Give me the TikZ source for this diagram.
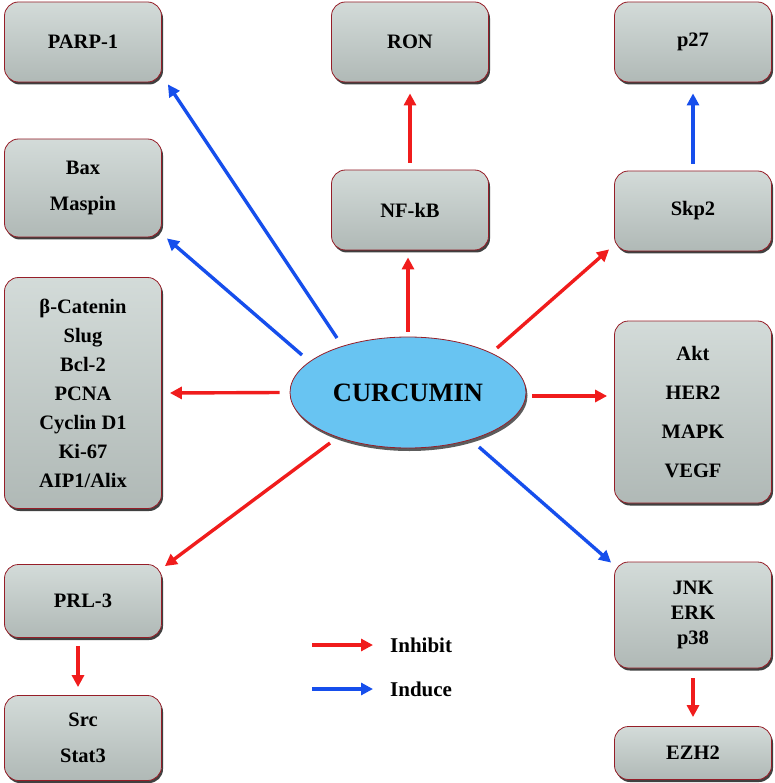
\documentclass[tikz,border=0pt]{standalone}
\usepackage{fontspec}
\setmainfont{Liberation Serif}
\usepackage{tikz}
\usepackage{xcolor}
\usetikzlibrary{positioning, arrows.meta, shapes.geometric, shadows, calc}
\definecolor{boxgray}{RGB}{200, 210, 207}
\definecolor{boxedge}{RGB}{150, 30, 40}
\definecolor{curblue}{RGB}{104, 196, 242}
\definecolor{inhred}{RGB}{240, 28, 28}
\definecolor{indblue}{RGB}{22, 78, 236}
\tikzset{
    genebox/.style={rectangle, rounded corners=14pt, draw=boxedge, line width=0.8pt,
        top color=boxgray!80!white, bottom color=boxgray!88!black,
        drop shadow={shadow xshift=1.5pt, shadow yshift=-2.5pt, opacity=0.75, fill=black},
        minimum width=157pt, align=center, inner sep=0pt, font=\fontsize{20.5}{29}\selectfont\bfseries},
    curnode/.style={ellipse, draw=boxedge, line width=0.8pt, fill=curblue,
        drop shadow={shadow xshift=1.5pt, shadow yshift=-3pt, opacity=0.8, fill=black!80},
        minimum width=236pt, minimum height=111pt, inner sep=0pt, font=\fontsize{26.5}{30}\selectfont\bfseries},
    inhibit/.style={draw=inhred, line width=3.4pt, -{Triangle[length=12pt, width=12pt]}},
    induce/.style={draw=indblue, line width=3.4pt, -{Triangle[length=12pt, width=12pt]}},
    legtext/.style={anchor=west, inner sep=0pt, font=\fontsize{21}{24}\selectfont\bfseries}
}
\begin{document}
\begin{tikzpicture}[x=1pt, y=-1pt]
                \useasboundingbox (0,0) rectangle (774,783);
                \node[curnode] (cur) at (408,392.5) {CURCUMIN};
                \node[genebox, minimum height=80pt] (parp) at (83,42) {PARP-1};
                \node[genebox, minimum height=80pt] (ron) at (410,42) {RON};
                \node[genebox, minimum height=80pt] (p27) at (693,42) {p27};
                \node[genebox, minimum height=98pt, font=\fontsize{20.5}{36}\selectfont\bfseries] (bax) at (83,188) {Bax\\Maspin};
                \node[genebox, minimum height=80pt] (nfkb) at (410,210) {NF-kB};
                \node[genebox, minimum height=80pt] (skp) at (693,211) {Skp2};
                \node[genebox, minimum height=231pt] (cat) at (83,393)
                    {β-Catenin\\Slug\\Bcl-2\\PCNA\\Cyclin D1\\Ki-67\\AIP1/Alix};
                \node[genebox, minimum height=182pt, font=\fontsize{20.5}{39}\selectfont\bfseries] (akt) at (693,412)
                    {Akt\\HER2\\MAPK\\VEGF};
                \node[genebox, minimum height=73pt] (prl) at (83,601) {PRL-3};
                \node[genebox, minimum height=85pt, font=\fontsize{20.5}{36}\selectfont\bfseries] (src) at (83,738) {Src\\Stat3};
                \node[genebox, minimum height=106pt, font=\fontsize{20.5}{25}\selectfont\bfseries] (jnk) at (693,615) {JNK\\ERK\\p38};
                \node[genebox, minimum height=53pt] (ezh) at (693,753) {EZH2};

                \draw[induce] ($(cur)+(-71,-54.5)$) -- ($(parp.south east)+(6,2)$);
                \draw[induce] ($(cur)+(-106,-37.5)$) -- ($(bax.south east)+(5,1)$);
                \draw[inhibit] ($(cur.west)+(-10,0)$) -- ($(cat.east)+(8,0)$);
                \draw[inhibit] ($(cur.north)+(0,-5)$) -- ($(cur.north |- nfkb.south)+(0,7)$);
                \draw[inhibit] ($(nfkb.north)+(0,-7)$) -- ($(ron.south)+(0,11)$);
                \draw[induce] ($(skp.north)+(0,-7)$) -- ($(p27.south)+(0,11)$);
                \draw[inhibit] ($(cur)+(89,-44.5)$) -- ($(skp.south west)+(-5,-2)$);
                \draw[inhibit] ($(cur.east)+(6,3.5)$) -- ($(cur.east -| akt.west)+(-7,3.5)$);
                \draw[induce] ($(cur)+(71,54.5)$) -- ($(jnk.north west)+(-3,1)$);
                \draw[inhibit] ($(cur)+(-78,50.5)$) -- ($(prl.north east)+(3,2)$);
                \draw[inhibit] ($(prl.south)+(-5,8)$) -- ($(src.north)+(-5,-8)$);
                \draw[inhibit] ($(jnk.south)+(0,10)$) -- ($(ezh.north)+(0,-9)$);

                \node[legtext] (inh) at (390,645) {Inhibit};
                \node[legtext] (ind) at (390,689) {Induce};
                \draw[inhibit] ($(inh.west)+(-78,0)$) -- ($(inh.west)+(-17,0)$);
                \draw[induce] ($(ind.west)+(-78,0)$) -- ($(ind.west)+(-17,0)$);
            \end{tikzpicture}
\end{document}
